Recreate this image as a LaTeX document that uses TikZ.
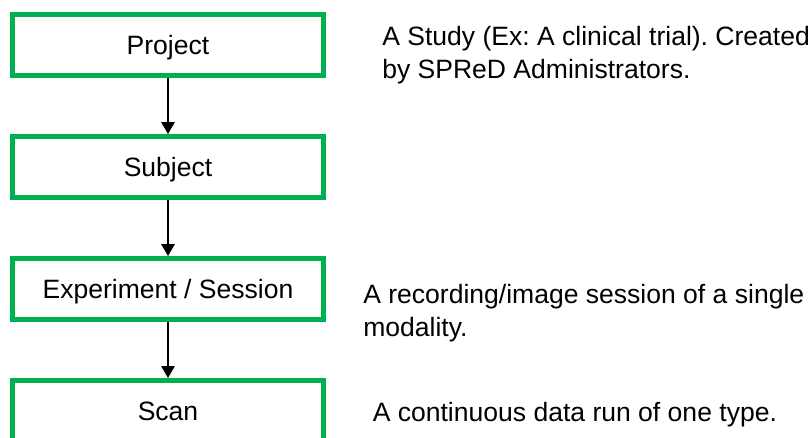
\documentclass[tikz,border=0pt]{standalone}
\usepackage{fontspec}
\setmainfont{Liberation Sans}
\usetikzlibrary{arrows.meta}
\definecolor{boxgreen}{RGB}{0,176,80}
\frenchspacing
\tikzset{
  level/.style={draw=boxgreen, line width=3.75pt, fill=white,
    minimum width=233.25pt, minimum height=45.75pt, inner sep=0pt,
    text height=14.25pt, text depth=0pt, align=center},
  % multi-line descriptions are anchored at the baseline of their last line
  descr/.style={anchor=base west, inner sep=0pt, align=left},
  link/.style={line width=1.6pt, -{Triangle[length=9pt,width=10pt]}},
}
\begin{document}
\begin{tikzpicture}[x=0.75pt, y=-0.75pt,
  every node/.style={font=\fontsize{19.9pt}{24.75pt}\selectfont}]
\useasboundingbox (0,0) rectangle (812,437);

% hierarchy boxes
\node[level] (project) at (168,44.7) {Project};
\node[level] (subject) at (168,167) {Subject};
\node[level] (session) at (168,289) {Experiment / Session};
\node[level] (scan)    at (168,411) {Scan};

% connectors
\draw[link] (project.south) -- (subject.north);
\draw[link] (subject.south) -- (session.north);
\draw[link] (session.south) -- (scan.north);

% descriptions
\node[descr] (dproject) at (382,78) {A Study (Ex: A clinical trial). Created\\by SPReD Administrators.};
\node[descr] (dsession) at (363,336) {A recording/image session of a single\\modality.};
\node[descr] (dscan)    at (372.5,421.7) {A continuous data run of one type.};
\end{tikzpicture}
\end{document}
